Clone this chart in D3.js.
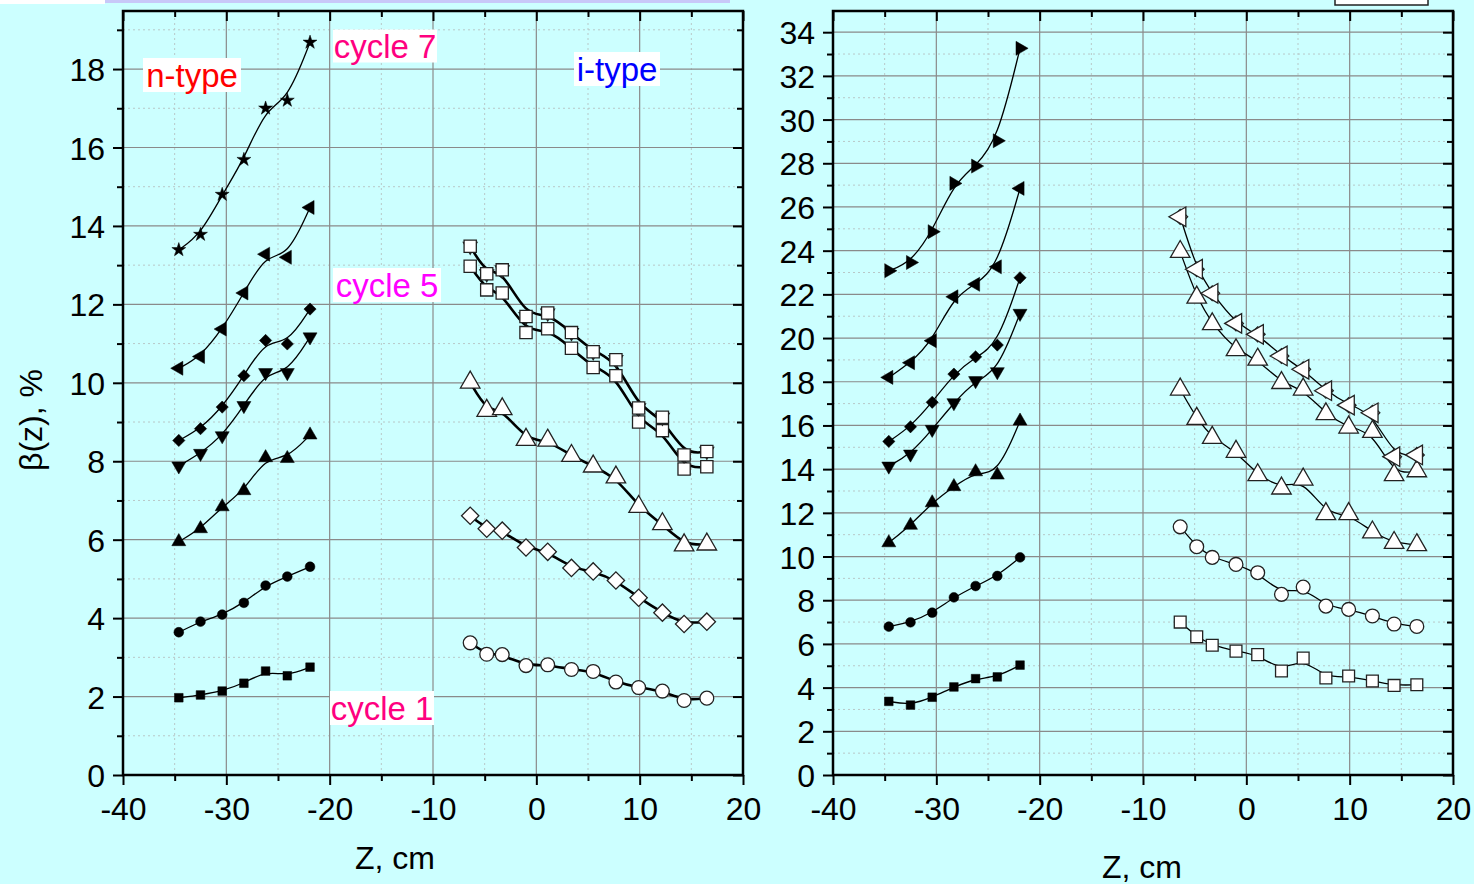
<!DOCTYPE html>
<html><head><meta charset="utf-8">
<script src="https://cdn.jsdelivr.net/npm/d3@7"></script>
<style>
html,body{margin:0;padding:0;background:#CCFFFF;}
svg{display:block;}
text{font-family:"Liberation Sans",Arial,sans-serif;}
</style></head>
<body>
<svg id="c" width="1474" height="884"></svg>
<script>
// ---------- data ----------
const zN = [-34.6, -32.5, -30.4, -28.3, -26.2, -24.1, -21.9];
const zI = [-6.4, -4.8, -3.3, -1.0, 1.1, 3.4, 5.5, 7.7, 9.9, 12.2, 14.3, 16.5];
const xTicks = [-40, -30, -20, -10, 0, 10, 20];
const yTicksL = [0, 2, 4, 6, 8, 10, 12, 14, 16, 18];
const yTicksR = [0, 2, 4, 6, 8, 10, 12, 14, 16, 18, 20, 22, 24, 26, 28, 30, 32, 34];

// left panel, n-type (filled)
const Ln_square = [1.97, 2.04, 2.14, 2.34, 2.65, 2.53, 2.75];
const Ln_circle = [3.64, 3.91, 4.09, 4.39, 4.83, 5.06, 5.31];
const Ln_up     = [5.95, 6.28, 6.84, 7.25, 8.09, 8.07, 8.67];
const Ln_down   = [7.88, 8.20, 8.65, 9.42, 10.26, 10.26, 11.17];
const Ln_diam   = [8.53, 8.83, 9.38, 10.18, 11.08, 10.99, 11.88];
const Ln_left   = [10.37, 10.67, 11.37, 12.29, 13.28, 13.20, 14.47];
const Ln_star   = [13.39, 13.78, 14.80, 15.69, 17.00, 17.20, 18.68];
// left panel, i-type (open)
const Li_circle = [3.37, 3.08, 3.07, 2.79, 2.81, 2.69, 2.64, 2.37, 2.23, 2.14, 1.90, 1.96];
const Li_diam   = [6.61, 6.28, 6.23, 5.80, 5.69, 5.28, 5.19, 4.96, 4.52, 4.14, 3.85, 3.91];
const Li_up     = [10.01, 9.29, 9.33, 8.55, 8.53, 8.14, 7.87, 7.59, 6.84, 6.40, 5.86, 5.88];
const Li_sq1    = [12.97, 12.37, 12.29, 11.28, 11.38, 10.88, 10.39, 10.18, 9.00, 8.78, 7.80, 7.86];
const Li_sq2    = [13.48, 12.78, 12.88, 11.69, 11.78, 11.28, 10.79, 10.59, 9.36, 9.12, 8.16, 8.25];
// right panel, n-type (filled)
const Rn_square = [3.37, 3.20, 3.56, 4.03, 4.41, 4.49, 5.03];
const Rn_circle = [6.79, 6.99, 7.43, 8.13, 8.65, 9.11, 9.96];
const Rn_up     = [10.63, 11.43, 12.46, 13.20, 13.88, 13.73, 16.20];
const Rn_down   = [14.14, 14.69, 15.82, 17.04, 18.05, 18.46, 21.13];
const Rn_diam   = [15.27, 15.94, 17.06, 18.35, 19.14, 19.68, 22.76];
const Rn_left   = [18.20, 18.87, 19.88, 21.89, 22.46, 23.26, 26.85];
const Rn_right  = [23.08, 23.46, 24.87, 27.08, 27.87, 29.03, 33.26];
// right panel, i-type (open)
const Ri_square = [7.00, 6.33, 5.94, 5.67, 5.51, 4.76, 5.35, 4.44, 4.53, 4.30, 4.10, 4.13];
const Ri_circle = [11.36, 10.45, 9.96, 9.64, 9.26, 8.27, 8.60, 7.73, 7.58, 7.28, 6.91, 6.80];
const Ri_up1    = [17.65, 16.31, 15.44, 14.80, 13.73, 13.12, 13.53, 11.95, 11.95, 11.11, 10.63, 10.53];
const Ri_up2    = [23.95, 21.86, 20.64, 19.45, 19.02, 17.95, 17.65, 16.52, 15.91, 15.71, 13.73, 13.91];
const Ri_dl     = [25.55, 23.15, 22.05, 20.67, 20.17, 19.18, 18.57, 17.59, 16.93, 16.58, 14.57, 14.65];

// ---------- drawing ----------
const svg = d3.select("#c");
const FONT = 32;

// top decorations
svg.append("rect").attr("x",0).attr("y",0).attr("width",105).attr("height",4).attr("fill","#fff");
svg.append("rect").attr("x",105).attr("y",0).attr("width",625).attr("height",3).attr("fill","#C8C8F8");
svg.append("rect").attr("x",1335).attr("y",-2).attr("width",93).attr("height",7).attr("fill","#fff").attr("stroke","#222").attr("stroke-width",1.5);

function symPath(kind, size){
  const map = {square:d3.symbolSquare, circle:d3.symbolCircle, up:d3.symbolTriangle,
    down:d3.symbolTriangle, left:d3.symbolTriangle, right:d3.symbolTriangle,
    diam:d3.symbolSquare, star:d3.symbolStar};
  return d3.symbol().type(map[kind]).size(size)();
}
const rot = {square:0,circle:0,up:0,down:180,left:-90,right:90,diam:45,star:0};

function panel(opt){
  const x = d3.scaleLinear().domain([-40,20]).range([opt.x0,opt.x1]);
  const y = d3.scaleLinear().domain([0,opt.ymax]).range([775,11]);
  const g = svg.append("g");
  // grid
  const minorX = d3.range(-35,20,10);
  const minorY = d3.range(1,opt.ymax,2);
  g.selectAll(".gmx").data(minorX).join("line")
    .attr("x1",d=>x(d)).attr("x2",d=>x(d)).attr("y1",y(0)).attr("y2",y(opt.ymax))
    .attr("stroke","#b8c8c8").attr("stroke-width",1).attr("stroke-dasharray","2,3");
  g.selectAll(".gmy").data(minorY).join("line")
    .attr("x1",x(-40)).attr("x2",x(20)).attr("y1",d=>y(d)).attr("y2",d=>y(d))
    .attr("stroke","#b8c8c8").attr("stroke-width",1).attr("stroke-dasharray","2,3");
  g.selectAll(".gx").data(xTicks.slice(1,-1)).join("line")
    .attr("x1",d=>x(d)).attr("x2",d=>x(d)).attr("y1",y(0)).attr("y2",y(opt.ymax))
    .attr("stroke","#8a8a8a").attr("stroke-width",1.2);
  g.selectAll(".gy").data(opt.yTicks.slice(1)).join("line")
    .attr("x1",x(-40)).attr("x2",x(20)).attr("y1",d=>y(d)).attr("y2",d=>y(d))
    .attr("stroke","#8a8a8a").attr("stroke-width",1.2);

  // axes
  const fmt = d => String(d);
  const ab = g.append("g").attr("transform",`translate(0,${y(0)})`)
    .call(d3.axisBottom(x).tickValues(xTicks).tickSize(10).tickSizeOuter(0).tickPadding(11).tickFormat(fmt));
  g.append("g").attr("transform",`translate(0,${y(0)})`)
    .call(d3.axisBottom(x).tickValues(minorX).tickSize(6).tickSizeOuter(0).tickFormat(""));
  const al = g.append("g").attr("transform",`translate(${x(-40)},0)`)
    .call(d3.axisLeft(y).tickValues(opt.yTicks).tickSize(10).tickSizeOuter(0).tickPadding(8).tickFormat(fmt));
  g.append("g").attr("transform",`translate(${x(-40)},0)`)
    .call(d3.axisLeft(y).tickValues(minorY).tickSize(6).tickSizeOuter(0).tickFormat(""));
  g.append("g").attr("transform",`translate(0,${y(opt.ymax)})`)
    .call(d3.axisTop(x).tickValues(xTicks).tickSize(-10).tickSizeOuter(0).tickFormat(""));
  g.append("g").attr("transform",`translate(0,${y(opt.ymax)})`)
    .call(d3.axisTop(x).tickValues(minorX).tickSize(-6).tickSizeOuter(0).tickFormat(""));
  g.append("g").attr("transform",`translate(${x(20)},0)`)
    .call(d3.axisRight(y).tickValues(opt.yTicks).tickSize(-10).tickSizeOuter(0).tickFormat(""));
  g.append("g").attr("transform",`translate(${x(20)},0)`)
    .call(d3.axisRight(y).tickValues(minorY).tickSize(-6).tickSizeOuter(0).tickFormat(""));
  g.selectAll(".domain").remove();
  g.selectAll(".tick line").attr("stroke","#000").attr("stroke-width",2);
  g.selectAll(".tick text").attr("font-size",FONT).attr("fill","#000")
    .attr("font-family",'"Liberation Sans",Arial,sans-serif');
  ab.selectAll(".tick text").attr("dy","0.75em");
  al.selectAll(".tick text").attr("dy","0.36em");
  // frame
  g.append("rect").attr("x",x(-40)).attr("y",y(opt.ymax)).attr("width",x(20)-x(-40)).attr("height",y(0)-y(opt.ymax))
    .attr("fill","none").attr("stroke","#000").attr("stroke-width",2.5);

  // series
  const line = d3.line().curve(d3.curveBasis).x(d=>x(d[0])).y(d=>y(d[1]));
  opt.series.forEach(s=>{
    const pts = s.z.map((z,i)=>[z,s.v[i]]);
    g.append("path").attr("d",line(pts)).attr("fill","none").attr("stroke","#000").attr("stroke-width",s.lw);
  });
  opt.series.forEach(s=>{
    const pts = s.z.map((z,i)=>[z,s.v[i]]);
    s.marks.forEach(m=>{
      g.selectAll(null).data(pts).join("path")
        .attr("d",symPath(m.k,m.size))
        .attr("transform",d=>`translate(${x(d[0])},${y(d[1])}) rotate(${rot[m.k]})`)
        .attr("fill",s.open?"#fff":"#000")
        .attr("stroke",s.open?"#222":"#000").attr("stroke-width",s.open?1.3:0.5);
    });
  });
  return {x,y};
}

const fN = (k,v)=>({z:zN,v,lw:1.3,open:false,marks:[{k,size:k==="star"?60:(k==="circle"?75:(k==="square"||k==="diam"?75:85))}]});
const fIL = (ks,v)=>({z:zI,v,lw:2.6,open:true,marks:ks.map((k,i)=>({k,size:ks.length>1&&i===0?80:(k==="circle"?150:(k==="square"||k==="diam"?150:165))}))});
const fIR = (ks,v)=>({z:zI,v,lw:1.3,open:true,marks:ks.map((k,i)=>({k,size:ks.length>1&&i===0?110:(k==="circle"?150:(k==="square"||k==="diam"?140:165))}))});

panel({x0:123,x1:743,ymax:19.48,yTicks:yTicksL,series:[
  fN("square",Ln_square),fN("circle",Ln_circle),fN("up",Ln_up),fN("down",Ln_down),
  fN("diam",Ln_diam),fN("left",Ln_left),fN("star",Ln_star),
  fIL(["circle"],Li_circle),fIL(["diam"],Li_diam),fIL(["up"],Li_up),
  fIL(["square"],Li_sq1),fIL(["down","square"],Li_sq2)
]});
panel({x0:833,x1:1453,ymax:34.97,yTicks:yTicksR,series:[
  fN("square",Rn_square),fN("circle",Rn_circle),fN("up",Rn_up),fN("down",Rn_down),
  fN("diam",Rn_diam),fN("left",Rn_left),fN("right",Rn_right),
  fIR(["square"],Ri_square),fIR(["circle"],Ri_circle),fIR(["up"],Ri_up1),
  fIR(["up"],Ri_up2),fIR(["diam","left"],Ri_dl)
]});

// axis titles
svg.append("text").attr("x",395).attr("y",869).attr("text-anchor","middle").attr("font-size",32).text("Z, cm");
svg.append("text").attr("x",1142).attr("y",878).attr("text-anchor","middle").attr("font-size",32).text("Z, cm");
svg.append("text").attr("transform","translate(42,420) rotate(-90)").attr("text-anchor","middle").attr("font-size",32).text("β(z), %");

// annotations
function label(txt,xc,yc,w,h,col){
  svg.append("rect").attr("x",xc-w/2).attr("y",yc-h/2).attr("width",w).attr("height",h).attr("fill","#fff");
  svg.append("text").attr("x",xc).attr("y",yc).attr("dy","0.35em").attr("text-anchor","middle")
    .attr("font-size",33).attr("fill",col).text(txt);
}
label("n-type",192,75,98,34,"#FF0000");
label("cycle 7",385,46,104,33,"#FF0080");
label("i-type",617,69,86,34,"#0000FF");
label("cycle 5",387,285,108,34,"#FF00FF");
label("cycle 1",382,708,104,34,"#FF0080");
</script>
</body></html>
